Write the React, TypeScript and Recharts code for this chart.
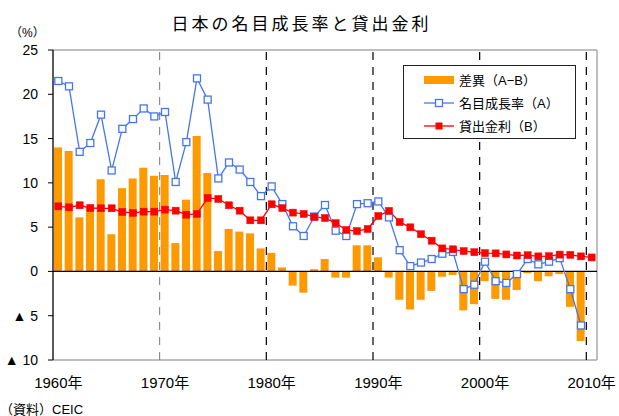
import React from 'react';
import { ComposedChart, Bar, Line, XAxis, YAxis, ReferenceLine, Legend } from 'recharts';

// 1960年〜2010年
const years: number[] = [
  1960, 1961, 1962, 1963, 1964, 1965, 1966, 1967, 1968, 1969,
  1970, 1971, 1972, 1973, 1974, 1975, 1976, 1977, 1978, 1979,
  1980, 1981, 1982, 1983, 1984, 1985, 1986, 1987, 1988, 1989,
  1990, 1991, 1992, 1993, 1994, 1995, 1996, 1997, 1998, 1999,
  2000, 2001, 2002, 2003, 2004, 2005, 2006, 2007, 2008, 2009,
  2010,
];

// 名目成長率（A）
const growth: (number | null)[] = [
  21.5, 20.9, 13.5, 14.5, 17.7, 11.4, 16.1, 17.2, 18.4, 17.5,
  18.0, 10.1, 14.6, 21.8, 19.4, 10.5, 12.3, 11.5, 10.1, 8.5,
  9.6, 7.6, 5.1, 4.0, 6.2, 7.5, 4.6, 4.0, 7.6, 7.7,
  7.9, 6.1, 2.4, 0.6, 1.0, 1.4, 2.0, 2.2, -2.0, -1.5,
  1.1, -1.1, -1.3, -0.3, 1.4, 0.8, 1.1, 1.5, -2.0, -6.1,
  null,
];

// 貸出金利（B）
const lending: (number | null)[] = [
  7.35, 7.24, 7.47, 7.16, 7.13, 7.13, 6.71, 6.6, 6.75, 6.75,
  6.98, 6.86, 6.41, 6.49, 8.3, 8.18, 7.47, 6.86, 5.77, 5.77,
  7.58, 7.15, 6.64, 6.49, 6.16, 6.03, 5.45, 4.68, 4.56, 4.79,
  6.26, 6.84, 5.58, 4.98, 4.2, 3.47, 2.6, 2.5, 2.3, 2.17,
  2.07, 2.04, 1.92, 1.8, 1.83, 1.7, 1.72, 1.9, 1.87, 1.7,
  1.58,
];

// 差異（A−B）
const gap: (number | null)[] = [
  14.0, 13.6, 6.1, 7.3, 10.4, 4.2, 9.4, 10.5, 11.7, 10.8,
  10.9, 3.2, 8.1, 15.3, 11.1, 2.3, 4.8, 4.5, 4.3, 2.6,
  2.1, 0.45, -1.6, -2.4, 0.25, 1.4, -0.7, -0.7, 2.95, 2.95,
  1.6, -0.7, -3.2, -4.3, -3.2, -2.2, -0.6, -0.4, -4.4, -3.7,
  -1.1, -3.1, -3.2, -2.1, -0.2, -1.1, -0.55, -0.3, -4.0, -7.85,
  null,
];

const xTicks = [1960, 1970, 1980, 1990, 2000, 2010];
const yTicks = [-10, -5, 0, 5, 10, 15, 20, 25];
const decadeLines = [1979.5, 1989.5, 1999.5, 2009.5];

const data = years.map((y, i) => ({ year: y, gap: gap[i], growth: growth[i], lending: lending[i] }));

const FONT = '"Liberation Sans", "Noto Sans CJK JP", sans-serif';
const ORANGE = '#ff9900';
const BLUE = '#4477ee';
const RED = '#ff0000';

const OpenSquare = (props: any) => {
  const { cx, cy, index } = props;
  if (cx == null || cy == null || props.value == null) return <g key={`o-${index}`} />;
  return <rect key={`o-${index}`} x={cx - 3.5} y={cy - 3.5} width={7} height={7} fill="#fff" stroke={BLUE} strokeWidth={1.3} />;
};

const FilledSquare = (props: any) => {
  const { cx, cy, index } = props;
  if (cx == null || cy == null || props.value == null) return <g key={`f-${index}`} />;
  return <rect key={`f-${index}`} x={cx - 3.5} y={cy - 3.5} width={7} height={7} fill={RED} stroke={RED} strokeWidth={0.5} />;
};

const yLabel = (v: number) => (v < 0 ? `▲ ${-v}` : `${v}`);

const LegendBox = () => (
  <div style={{ border: '1.5px solid #222', background: '#fff', padding: '2px 0 1px 0', fontFamily: FONT, fontSize: 13, color: '#000' }}>
    {[
      { label: '差異（A−B）', kind: 'bar' },
      { label: '名目成長率（A）', kind: 'open' },
      { label: '貸出金利（B）', kind: 'filled' },
    ].map((r) => (
      <div key={r.label} style={{ display: 'flex', alignItems: 'center', height: 23 }}>
        <svg width={54} height={12} style={{ marginLeft: 18 }}>
          {r.kind === 'bar' && <rect x={2} y={2} width={30} height={8} fill={ORANGE} />}
          {r.kind === 'open' && (
            <g>
              <line x1={2} y1={6} x2={32} y2={6} stroke={BLUE} strokeWidth={1.3} />
              <rect x={13.5} y={2.5} width={7} height={7} fill="#fff" stroke={BLUE} strokeWidth={1.3} />
            </g>
          )}
          {r.kind === 'filled' && (
            <g>
              <line x1={2} y1={6} x2={32} y2={6} stroke={RED} strokeWidth={1.3} />
              <rect x={13.5} y={2.5} width={7} height={7} fill={RED} />
            </g>
          )}
        </svg>
        <span style={{ marginLeft: -17 }}>{r.label}</span>
      </div>
    ))}
  </div>
);

export default function App() {
  return (
    <div style={{ position: 'relative', width: 619, height: 416, fontFamily: FONT }}>
      <style>{'body{margin:0}'}</style>
      <div style={{ position: 'absolute', left: 0, width: 603, top: 10, textAlign: 'center', fontSize: 17, letterSpacing: 3, color: '#000' }}>
        日本の名目成長率と貸出金利
      </div>
      <div style={{ position: 'absolute', left: 10, top: 23, fontSize: 12, color: '#000' }}>（%）</div>
      <div style={{ position: 'absolute', left: 0, top: 399, fontSize: 13, color: '#000' }}>（資料）CEIC</div>
      <ComposedChart width={619} height={416} data={data} margin={{ top: 50, right: 22, left: 0, bottom: 26 }}>
        <XAxis
          dataKey="year"
          type="number"
          domain={[1959.5, 2010.5]}
          ticks={xTicks}
          tickFormatter={(v: number) => `${v}年`}
          axisLine={false}
          tickLine={false}
          tickMargin={11}
          height={30}
          interval={0}
          tick={{ fill: '#000', fontSize: 15, fontFamily: FONT }}
        />
        <YAxis
          domain={[-10, 25]}
          ticks={yTicks}
          tickFormatter={yLabel}
          width={53}
          interval={0}
          axisLine={{ stroke: '#000', strokeWidth: 1.3 }}
          tickLine={{ stroke: '#000' }}
          tickSize={5}
          tickMargin={10}
          tick={{ fill: '#000', fontSize: 14, fontFamily: FONT }}
        />
        <ReferenceLine y={25} stroke="#aaa" strokeWidth={1.5} />
        <ReferenceLine y={-10} stroke="#aaa" strokeWidth={1.5} />
        <ReferenceLine x={2010.5} stroke="#aaa" strokeWidth={1.5} />
        <ReferenceLine x={1969.5} stroke="#777" strokeDasharray="8 7" />
        {decadeLines.map((x) => (
          <ReferenceLine key={x} x={x} stroke="#000" strokeWidth={1.2} strokeDasharray="8 7" />
        ))}
        <Bar dataKey="gap" name="差異（A−B）" fill={ORANGE} barSize={8} isAnimationActive={false} />
        <ReferenceLine y={0} stroke="#000" strokeWidth={1.3} />
        <Line dataKey="growth" name="名目成長率（A）" stroke={BLUE} strokeWidth={1.3} dot={OpenSquare} activeDot={false} isAnimationActive={false} />
        <Line dataKey="lending" name="貸出金利（B）" stroke={RED} strokeWidth={1.3} dot={FilledSquare} activeDot={false} isAnimationActive={false} />
        <Legend
          content={LegendBox}
          layout="vertical"
          align="center"
          verticalAlign="middle"
          wrapperStyle={{ position: 'absolute', left: 403, top: 65, width: 173 }}
        />
      </ComposedChart>
    </div>
  );
}
